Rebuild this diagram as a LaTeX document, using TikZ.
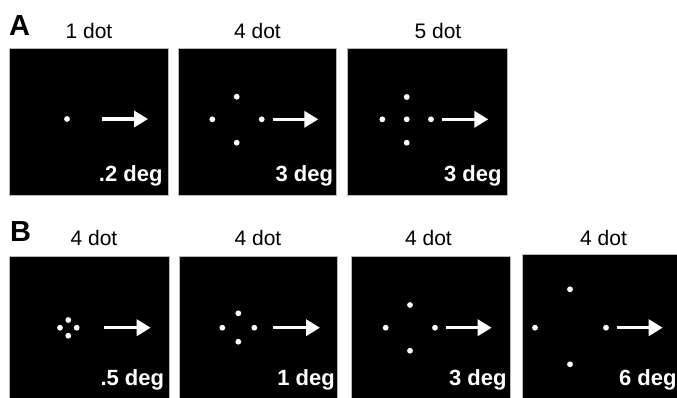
\documentclass[tikz,border=0pt]{standalone}
\usepackage{fontspec}
\setmainfont{Liberation Sans}
\usetikzlibrary{arrows.meta}
\tikzset{
  panel/.style={fill=black, draw=gray!55, line width=0.8pt},
  ttl/.style={anchor=base, inner sep=0pt, font=\fontsize{21}{21}\selectfont},
  letter/.style={anchor=base west, inner sep=0pt, font=\fontsize{29}{29}\selectfont\bfseries},
  deg/.style={anchor=base east, inner sep=0pt, text=white, font=\fontsize{22}{22}\selectfont\bfseries},
  mv/.style={draw=white, line width=3.5pt, -{Triangle[length=14pt,width=16pt]}},
  dotc/.style={fill=white}
}
\newcommand{\wdot}[2]{\fill[dotc] (#1,#2) circle (2.9pt);}
\begin{document}
\begin{tikzpicture}[x=1pt,y=-1pt]
\useasboundingbox (0,0) rectangle (677,397);
\fill[white] (0,0) rectangle (677,397);
% panels
\draw[panel] (9.3,48.5) rectangle (168.3,195);
\draw[panel] (178.5,48.5) rectangle (336.5,195);
\draw[panel] (347.5,48.5) rectangle (507,195);
\draw[panel] (9.3,256) rectangle (169,399);
\draw[panel] (179.5,256) rectangle (337.7,399);
\draw[panel] (351,256) rectangle (510.7,399);
\draw[panel] (522.3,254) rectangle (679,399);
% letters
\node[letter] (lA) at (9,35) {A};
\node[letter] (lB) at (10,241.7) {B};
% titles
\node[ttl] (tA1) at (89,38) {1 dot};
\node[ttl] (tA2) at (257.5,38) {4 dot};
\node[ttl] (tA3) at (438,38) {5 dot};
\node[ttl] (tB1) at (94,245) {4 dot};
\node[ttl] (tB2) at (258,245) {4 dot};
\node[ttl] (tB3) at (428.5,245) {4 dot};
\node[ttl] (tB4) at (603.5,245) {4 dot};
% dots A
\wdot{67}{119}
\wdot{212.3}{119.3}\wdot{261.7}{119.3}\wdot{236.7}{96.7}\wdot{236.7}{142.7}
\wdot{382.3}{119.3}\wdot{431}{119.3}\wdot{406.7}{97}\wdot{406.7}{142.7}\wdot{406.7}{119.3}
% dots B
\wdot{60}{327.7}\wdot{76.7}{327.7}\wdot{68.3}{320}\wdot{68.3}{335.7}
\wdot{222.3}{327.7}\wdot{254.3}{327.7}\wdot{238.3}{313.3}\wdot{238.3}{341.7}
\wdot{385.7}{327.7}\wdot{435}{327.7}\wdot{410}{305}\wdot{410}{350.7}
\wdot{535}{327.7}\wdot{606}{327.7}\wdot{570}{289.3}\wdot{570}{364.3}
% arrows
\draw[mv] (102,119) -- (148,119);
\draw[mv] (272.7,119.3) -- (318.3,119.3);
\draw[mv] (441.7,119.3) -- (488.3,119.3);
\draw[mv] (104,327.7) -- (150.7,327.7);
\draw[mv] (273.3,327.7) -- (320,327.7);
\draw[mv] (445.7,327.7) -- (491.7,327.7);
\draw[mv] (616.7,327.7) -- (662.7,327.7);
% degree labels
\node[deg] (dA1) at (162.7,181.7) {.2 deg};
\node[deg] (dA2) at (333.3,181.7) {3 deg};
\node[deg] (dA3) at (501.7,181.7) {3 deg};
\node[deg] (dB1) at (164.3,385) {.5 deg};
\node[deg] (dB2) at (335,385) {1 deg};
\node[deg] (dB3) at (506.7,385) {3 deg};
\node[deg] (dB4) at (676.7,385) {6 deg};
\end{tikzpicture}
\end{document}
